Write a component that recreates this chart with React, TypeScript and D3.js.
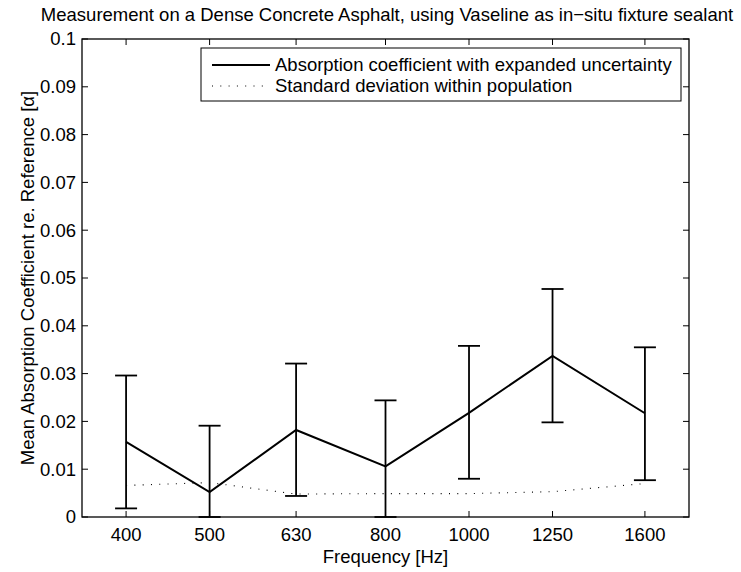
import React from "react";
import * as d3 from "d3";

const frequencies = [400, 500, 630, 800, 1000, 1250, 1600];
const meanAbs = [0.0157, 0.0052, 0.0182, 0.0106, 0.0218, 0.0337, 0.0217];
const upperAbs = [0.0296, 0.0191, 0.0321, 0.0244, 0.0358, 0.0477, 0.0355];
const lowerAbs = [0.0018, 0.0, 0.0044, 0.0, 0.0080, 0.0198, 0.0077];
const stdDev = [0.0066, 0.0072, 0.0048, 0.0049, 0.0049, 0.0053, 0.0070];
const yTicks = [0, 0.01, 0.02, 0.03, 0.04, 0.05, 0.06, 0.07, 0.08, 0.09, 0.1];

const W = 741, H = 572;
const L = 82, R = 689, T = 39, B = 517;
const FONT = "'Liberation Sans', Arial, Helvetica, sans-serif";
const FS = 18.5;

export default function App() {
  const x = d3.scaleLog().domain([400 / 1.125, 1600 * 1.125]).range([L, R]);
  const y = d3.scaleLinear().domain([0, 0.1]).range([B, T]);
  const line = d3.line<number>().x((_, i) => x(frequencies[i])).y((d) => y(d));
  const tick = 6;
  const cap = 11;
  return (
    <svg width={W} height={H} style={{ position: "absolute", left: 0, top: 0, background: "#fff" }} fontFamily={FONT}>
      <rect x={0} y={0} width={W} height={H} fill="#fff" />
      <text x={387} y={21} textAnchor="middle" fontSize={FS}>
        Measurement on a Dense Concrete Asphalt, using Vaseline as in−situ fixture sealant
      </text>
      {yTicks.map((t) => (
        <g key={"y" + t}>
          <line x1={L} x2={L + tick} y1={y(t)} y2={y(t)} stroke="#000" />
          <line x1={R} x2={R - tick} y1={y(t)} y2={y(t)} stroke="#000" />
          <text x={L - 6} y={y(t)} dy="0.35em" textAnchor="end" fontSize={FS}>{t === 0 ? "0" : String(t)}</text>
        </g>
      ))}
      {frequencies.map((f) => (
        <g key={"x" + f}>
          <line x1={x(f)} x2={x(f)} y1={B} y2={B - tick} stroke="#000" />
          <line x1={x(f)} x2={x(f)} y1={T} y2={T + tick} stroke="#000" />
          <text x={x(f)} y={B + 24} textAnchor="middle" fontSize={FS}>{f}</text>
        </g>
      ))}
      <text x={(L + R) / 2} y={B + 46} textAnchor="middle" fontSize={FS}>Frequency [Hz]</text>
      <text transform={`translate(34,${(T + B) / 2}) rotate(-90)`} textAnchor="middle" fontSize={FS}>
        Mean Absorption Coefficient re. Reference [α]
      </text>
      <path d={line(stdDev) || ""} fill="none" stroke="#000" strokeWidth={1.1} strokeDasharray="1 7.3" />
      {frequencies.map((f, i) => (
        <g key={"e" + f} stroke="#000" strokeWidth={1.8}>
          <line x1={x(f)} x2={x(f)} y1={y(lowerAbs[i])} y2={y(upperAbs[i])} />
          <line x1={x(f) - cap} x2={x(f) + cap} y1={y(upperAbs[i])} y2={y(upperAbs[i])} />
          <line x1={x(f) - cap} x2={x(f) + cap} y1={y(lowerAbs[i])} y2={y(lowerAbs[i])} />
        </g>
      ))}
      <path d={line(meanAbs) || ""} fill="none" stroke="#000" strokeWidth={2} />
      <rect x={L} y={T} width={R - L} height={B - T} fill="none" stroke="#000" strokeWidth={1.3} />
      <rect x={201} y={48} width={480} height={53} fill="#fff" stroke="#000" strokeWidth={1} />
      <line x1={212} x2={270} y1={65} y2={65} stroke="#000" strokeWidth={2} />
      <line x1={212} x2={270} y1={86} y2={86} stroke="#000" strokeWidth={1.1} strokeDasharray="1 7.3" />
      <text x={275} y={65} dy="0.35em" fontSize={FS}>Absorption coefficient with expanded uncertainty</text>
      <text x={275} y={86} dy="0.35em" fontSize={FS}>Standard deviation within population</text>
    </svg>
  );
}
